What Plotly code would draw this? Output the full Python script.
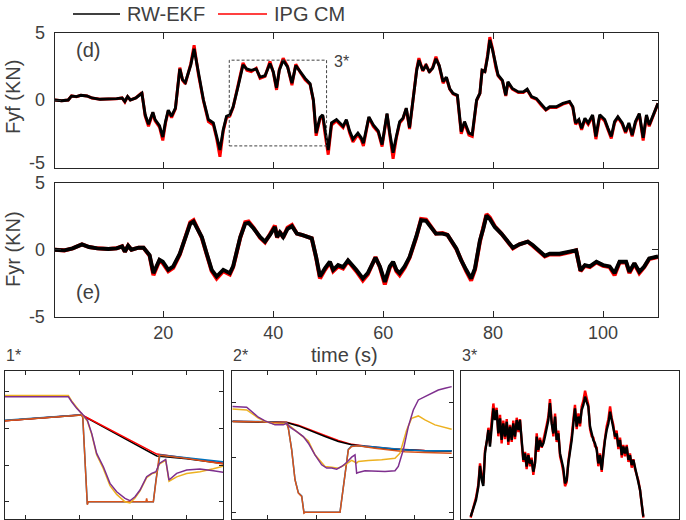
import plotly.graph_objects as go

W, H = 686, 520

# ---------------- panel (d): front lateral force ----------------
fyf_t = [0.2, 1.5, 2.7, 3.3, 4.2, 5.0, 6.1, 7.0, 8.5, 10.0,
         11.5, 12.5, 13.0, 13.5, 14.0, 15.0, 16.1, 16.7, 17.3, 18.1,
         18.5, 19.3, 19.9, 20.4, 20.9, 21.5, 22.2, 23.0, 23.5, 24.0,
         24.5, 25.0, 25.6, 26.0, 26.4, 27.3, 28.2, 29.1, 29.7, 30.3,
         30.9, 31.5, 32.1, 32.7, 33.6, 34.5, 35.2, 36.0, 36.9, 37.6,
         38.5, 39.4, 40.0, 40.6, 41.1, 41.8, 42.6, 43.4, 44.1, 44.9,
         45.8, 46.7, 47.3, 47.8, 48.5, 49.0, 49.4, 50.0, 50.6, 51.5,
         52.7, 53.3, 53.9, 54.5, 55.4, 56.0, 56.4, 56.9, 57.4, 58.2,
         59.1, 59.8, 60.3, 60.7, 61.2, 61.8, 62.4, 63.0, 63.6, 64.2,
         64.8, 65.6, 66.1, 66.5, 67.2, 67.8, 68.4, 69.0, 69.6, 70.2,
         70.9, 71.5, 72.1, 72.7, 73.5, 74.2, 74.8, 75.6, 76.2, 77.0,
         77.6, 78.0, 78.5, 79.0, 79.4, 79.9, 80.5, 80.9, 81.7, 82.3,
         82.7, 83.5, 84.6, 85.5, 86.2, 87.0, 87.9, 88.8, 89.6, 90.3,
         91.5, 92.7, 93.9, 94.5, 95.0, 95.6, 96.1, 96.7, 97.3, 98.1,
         98.7, 99.4, 100.3, 100.9, 101.5, 102.1, 102.7, 103.5, 104.1, 104.7,
         105.3, 105.9, 106.6, 107.3, 107.9, 108.4, 109.1, 110.0]
fyf_ekf = [0.0, -0.05, 0.0, 0.3, 0.25, 0.35, 0.3, 0.15, 0.05, 0.05,
           0.1, 0.15, -0.1, 0.25, 0.0, 0.15, 0.5, -1.1, -1.8, -0.9,
           -1.45, -1.9, -2.75, -1.6, -0.75, -1.2, -0.6, 2.3, 1.5, 1.3,
           1.9, 2.6, 3.8, 2.9, 1.9, 0.0, -1.45, -1.7, -2.7, -3.7,
           -2.2, -1.2, -1.1, -0.5, 1.0, 2.6, 2.3, 2.2, 2.3, 1.7,
           1.8, 2.7, 2.1, 0.9, 2.2, 2.95, 2.45, 1.25, 2.55, 2.1,
           1.6, 1.2, 0.0, -2.45, -1.3, -1.1, -2.3, -3.7, -1.7, -1.45,
           -1.95, -1.45, -2.3, -2.9, -2.45, -2.8, -3.2, -2.2, -1.25, -1.85,
           -2.3, -3.3, -1.95, -1.0, -2.45, -3.9, -2.7, -1.6, -1.35, -0.6,
           -2.05, 0.85, 2.2, 2.95, 2.2, 2.55, 2.1, 2.35, 3.05, 2.55,
           1.35, 1.7, 0.85, 0.5, 0.35, -2.35, -1.6, -2.45, -2.55, 0.0,
           0.5, 2.2, 2.1, 3.2, 4.45, 3.7, 2.45, 1.85, 1.45, 0.35,
           1.35, 0.85, 0.6, 0.6, 0.8, 0.25, 0.1, -0.35, -0.7, -0.5,
           -0.5, -0.25, -0.1, -0.5, -1.7, -1.45, -2.1, -1.35, -1.7, -1.1,
           -2.7, -1.1, -1.45, -2.1, -2.7, -1.6, -1.25, -1.7, -2.35, -1.7,
           -2.6, -1.6, -1.0, -2.8, -1.1, -1.85, -1.1, -0.25]
fyf_ipg = [0.0, -0.05, 0.0, 0.3, 0.25, 0.35, 0.3, 0.15, 0.05, 0.05,
           0.1, 0.15, -0.15, 0.25, 0.0, 0.15, 0.55, -1.2, -1.95, -0.95,
           -1.55, -2.0, -3.0, -1.7, -0.8, -1.3, -0.65, 2.4, 1.45, 1.2,
           1.9, 2.7, 4.05, 2.95, 1.85, -0.05, -1.6, -1.85, -2.85, -4.2,
           -2.3, -1.3, -1.2, -0.55, 1.0, 2.75, 2.2, 2.1, 2.35, 1.6,
           1.75, 2.85, 2.05, 0.75, 2.25, 3.1, 2.5, 1.1, 2.65, 2.05,
           1.5, 1.15, -0.05, -2.65, -1.4, -1.2, -2.45, -4.05, -1.85, -1.55,
           -2.05, -1.5, -2.45, -3.1, -2.55, -2.95, -3.4, -2.3, -1.3, -1.95,
           -2.4, -3.45, -2.05, -1.05, -2.6, -4.35, -2.8, -1.7, -1.4, -0.65,
           -2.15, 0.8, 2.3, 3.1, 2.15, 2.65, 2.05, 2.4, 3.2, 2.5,
           1.25, 1.65, 0.8, 0.45, 0.3, -2.5, -1.7, -2.6, -2.7, -0.05,
           0.5, 2.25, 2.05, 3.35, 4.65, 3.8, 2.4, 1.8, 1.4, 0.3,
           1.3, 0.8, 0.55, 0.55, 0.75, 0.2, 0.05, -0.4, -0.75, -0.55,
           -0.55, -0.3, -0.15, -0.55, -1.8, -1.55, -2.2, -1.45, -1.8, -1.2,
           -2.9, -1.2, -1.55, -2.2, -2.85, -1.7, -1.3, -1.8, -2.45, -1.8,
           -2.7, -1.7, -1.05, -3.0, -1.2, -1.95, -1.15, -0.25]

# ---------------- panel (e): rear lateral force ----------------
fyr_t = [0.2, 2.0, 3.5, 5.2, 6.5, 8.0, 10.0, 11.5, 12.5, 13.0,
         13.6, 14.2, 15.5, 16.4, 17.5, 18.2, 19.3, 19.9, 20.9, 21.8,
         23.0, 24.0, 24.9, 25.5, 26.1, 27.0, 27.9, 28.8, 29.7, 30.9,
         32.1, 32.7, 34.0, 34.9, 35.5, 36.4, 37.6, 38.5, 39.4, 40.3,
         40.7, 41.2, 41.8, 42.6, 43.4, 44.3, 45.2, 46.1, 47.0, 47.8,
         48.5, 49.4, 50.3, 50.9, 51.8, 52.7, 53.6, 55.1, 56.3, 57.2,
         58.6, 59.4, 60.3, 61.2, 61.8, 62.4, 63.0, 63.9, 64.8, 66.0,
         66.9, 67.8, 68.7, 69.6, 70.8, 71.7, 73.3, 74.2, 75.1, 76.0,
         76.7, 77.6, 78.2, 78.8, 79.4, 80.3, 81.5, 82.7, 83.6, 84.8,
         86.3, 87.2, 88.5, 89.4, 90.3, 92.1, 93.9, 95.1, 95.9, 96.7,
         97.6, 98.8, 100.0, 101.2, 102.1, 103.0, 104.2, 104.8, 105.7, 106.6,
         107.5, 108.4, 110.0]
fyr_ekf = [0.0, -0.05, 0.1, 0.4, 0.2, 0.1, 0.05, 0.1, 0.25, -0.15,
           0.3, 0.0, 0.15, 0.15, -0.4, -1.75, -0.75, -0.9, -1.5, -1.25,
           -0.3, 0.95, 1.95, 2.1, 1.6, 0.95, -0.3, -1.5, -2.0, -1.5,
           -1.75, -1.25, 0.95, 1.95, 2.0, 1.6, 0.95, 0.6, 1.1, 1.7,
           0.95, 1.3, 0.95, 1.55, 1.75, 1.2, 1.1, 0.95, 0.85, -0.55,
           -2.0, -1.4, -0.9, -1.5, -1.15, -1.3, -0.8, -1.5, -2.15, -1.75,
           -0.6, -1.25, -2.4, -1.25, -0.9, -1.5, -1.75, -1.25, -0.55, 0.95,
           2.2, 2.15, 1.7, 1.2, 1.2, 1.1, 0.1, -0.8, -1.5, -2.15,
           -1.4, 0.7, 1.55, 2.55, 2.3, 1.7, 1.2, 0.6, 0.15, 0.4,
           0.6, 0.35, -0.15, -0.45, -0.3, -0.3, -0.15, -0.05, -1.55, -1.15,
           -1.25, -0.9, -1.15, -1.25, -1.75, -0.9, -0.9, -1.65, -1.0, -1.65,
           -1.25, -0.65, -0.5]
fyr_ipg = [0.0, -0.05, 0.1, 0.4, 0.2, 0.1, 0.05, 0.1, 0.25, -0.15,
           0.3, 0.0, 0.15, 0.15, -0.45, -1.9, -0.8, -1.0, -1.6, -1.35,
           -0.35, 0.9, 2.05, 2.2, 1.65, 0.9, -0.35, -1.6, -2.15, -1.6,
           -1.85, -1.3, 0.9, 2.05, 2.1, 1.65, 0.9, 0.55, 1.15, 1.8,
           0.9, 1.35, 0.9, 1.65, 1.85, 1.2, 1.1, 0.95, 0.85, -0.6,
           -2.15, -1.5, -0.95, -1.6, -1.25, -1.4, -0.85, -1.6, -2.3, -1.85,
           -0.55, -1.3, -2.6, -1.35, -0.95, -1.6, -1.9, -1.35, -0.6, 0.9,
           2.3, 2.25, 1.75, 1.2, 1.25, 1.1, 0.05, -0.85, -1.6, -2.3,
           -1.5, 0.6, 1.5, 2.65, 2.4, 1.75, 1.2, 0.55, 0.1, 0.4,
           0.6, 0.3, -0.2, -0.5, -0.35, -0.35, -0.2, -0.05, -1.6, -1.2,
           -1.3, -0.95, -1.2, -1.3, -1.9, -0.95, -0.95, -1.75, -1.05, -1.75,
           -1.3, -0.7, -0.55]

# ---------------- inset 1* (normalised units) ----------------
in1_purple_x = [0.623, 1.154, 1.802, 1.864, 1.957, 2.049, 2.154, 2.235, 2.327, 2.451,
                2.574, 2.698, 2.852, 2.944, 3.037, 3.130, 3.253, 3.346, 3.426, 3.488,
                3.593, 3.605, 3.667, 3.809, 3.994, 4.241, 4.488, 4.673]
in1_purple_y = [3.865, 3.865, 3.865, 3.728, 3.546, 3.41, 3.228, 2.865, 2.319, 1.955,
                1.501, 1.274, 1.092, 1.028, 1.137, 1.319, 1.683, 1.774, 1.819, 2.046,
                2.137, 2.155, 1.592, 1.774, 1.865, 1.892, 1.846, 1.801]
in1_yellow_y = [3.9, 3.9, 3.9, 3.75, 3.56, 3.40, 3.20, 2.84, 2.28, 1.90,
                1.44, 1.20, 1.00, 0.97, 1.10, 1.30, 1.66, 1.76, 1.80, 2.03,
                2.12, 2.14, 1.56, 1.68, 1.77, 1.82, 1.90, 1.97]
in1_step_x = [0.623, 1.5, 2.049, 2.07, 2.154, 2.17, 3.0, 3.24, 3.253, 3.266,
              3.377, 3.426, 3.488, 3.5, 3.994, 4.673]
in1_orange_y = [3.21, 3.30, 3.365, 3.3, 0.92, 1.0, 1.0, 1.0, 1.09, 1.0,
                1.0, 1.6, 2.274, 2.27, 2.183, 2.03]
in1_blue_y = [3.22, 3.31, 3.37, 3.3, 0.93, 1.0, 1.0, 1.0, 1.0, 1.0,
              1.0, 1.6, 2.28, 2.28, 2.2, 2.09]
in1_ref_x = [0.623, 2.049, 3.44, 3.994, 4.673]
in1_black_y = [3.21, 3.365, 2.25, 2.17, 2.04]
in1_red_y = [3.21, 3.37, 2.30, 2.19, 2.05]

# ---------------- inset 2* (normalised units) ----------------
in2_purple_x = [0.280, 0.572, 0.809, 0.945, 1.149, 1.318, 1.386, 1.454, 1.590, 1.726,
                1.828, 1.963, 2.099, 2.201, 2.303, 2.405, 2.507, 2.608, 2.710, 2.778,
                2.812, 2.846, 2.982, 3.185, 3.389, 3.593, 3.660, 3.762, 3.864, 3.966,
                4.068, 4.203, 4.339, 4.475, 4.611, 4.747]
in2_purple_y = [2.928, 2.916, 2.734, 2.667, 2.595, 2.595, 2.625, 2.552, 2.473, 2.382,
                2.261, 2.049, 1.867, 1.807, 1.807, 1.788, 1.837, 1.91, 2.007, 2.049,
                1.716, 1.728, 1.758, 1.746, 1.746, 1.758, 1.837, 2.140, 2.564, 2.867,
                3.049, 3.110, 3.170, 3.231, 3.261, 3.292]
in2_yellow_x = [0.280, 0.572, 0.809, 0.945, 1.149, 1.318, 1.386, 1.488, 1.692, 1.828,
                1.963, 2.167, 2.303, 2.439, 2.574, 2.710, 2.812, 2.846, 3.050, 3.321,
                3.593, 3.694, 3.830, 3.932, 4.068, 4.203, 4.407, 4.611, 4.747]
in2_yellow_y = [2.885, 2.867, 2.72, 2.66, 2.607, 2.61, 2.625, 2.552, 2.413, 2.30,
                2.049, 1.837, 1.825, 1.807, 1.867, 1.95, 1.90, 1.928, 1.946, 1.958,
                1.988, 2.079, 2.50, 2.716, 2.758, 2.685, 2.595, 2.546, 2.516]
in2_step_x = [0.280, 0.809, 1.386, 1.420, 1.488, 1.556, 1.624, 1.692, 1.739, 1.760,
              2.473, 2.507, 2.574, 2.642, 2.710, 2.846, 3.185, 3.525, 3.796, 4.203,
              4.747]
in2_orange_y = [2.655, 2.65, 2.625, 2.534, 2.14, 1.595, 1.352, 1.291, 0.988, 1.001,
                1.001, 1.231, 1.716, 2.14, 2.201, 2.213, 2.170, 2.14, 2.104, 2.092,
                2.079]
in2_blue_y = [2.66, 2.655, 2.63, 2.54, 2.15, 1.60, 1.36, 1.30, 0.995, 1.005,
              1.005, 1.24, 1.72, 2.15, 2.21, 2.22, 2.19, 2.16, 2.14, 2.125,
              2.122]
in2_ref_x = [0.280, 1.386, 1.624, 1.895, 2.167, 2.439, 2.710, 2.982, 3.253, 3.525,
             3.796, 4.203, 4.747]
in2_black_y = [2.655, 2.637, 2.576, 2.473, 2.382, 2.292, 2.231, 2.201, 2.170, 2.152,
               2.14, 2.125, 2.12]
in2_red_y = [2.66, 2.645, 2.59, 2.49, 2.40, 2.31, 2.24, 2.21, 2.18, 2.16,
             2.145, 2.13, 2.125]

# ---------------- inset 3*: zoom of (d) between 32 s and 50 s ----------------
in3_t = [32.82, 33.04, 33.26, 33.45, 33.59, 33.73, 33.86, 34.00, 34.19, 34.28,
         34.41, 34.55, 34.69, 34.82, 34.96, 35.10, 35.24, 35.37, 35.51, 35.65,
         35.79, 35.92, 36.06, 36.20, 36.33, 36.47, 36.61, 36.75, 36.88, 37.02,
         37.16, 37.30, 37.43, 37.57, 37.71, 37.84, 37.98, 38.12, 38.26, 38.39,
         38.53, 38.67, 38.81, 38.94, 39.08, 39.22, 39.35, 39.49, 39.63, 39.77,
         39.90, 40.04, 40.18, 40.32, 40.45, 40.59, 40.73, 40.86, 41.00, 41.14,
         41.28, 41.41, 41.55, 41.69, 41.83, 41.96, 42.10, 42.24, 42.37, 42.51,
         42.65, 42.79, 42.92, 43.06, 43.20, 43.33, 43.47, 43.61, 43.75, 43.88,
         44.02, 44.16, 44.30, 44.43, 44.57, 44.71, 44.84, 44.98, 45.12, 45.26,
         45.39, 45.53, 45.67, 45.81, 45.94, 46.08, 46.22, 46.35, 46.49, 46.63,
         46.77, 46.90, 47.04]
in3_ekf = [-1.12, -0.83, -0.53, -0.07, 0.66, 0.17, -0.04, 1.10, 1.57, 1.92,
           1.34, 2.15, 2.68, 2.27, 2.62, 1.80, 2.33, 1.57, 2.15, 1.69,
           2.21, 1.51, 2.04, 1.57, 2.15, 1.69, 2.27, 1.92, 2.27, 1.57,
           0.87, 1.10, 0.64, 1.04, 0.75, 0.87, 0.46, 0.75, 1.69, 1.22,
           1.57, 1.34, 1.45, 1.69, 1.98, 2.27, 2.86, 2.15, 1.80, 2.39,
           1.57, 1.80, 1.10, 0.81, 0.58, 0.05, 0.17, 0.75, 1.10, 1.57,
           2.15, 2.68, 2.04, 2.39, 2.15, 2.62, 2.80, 3.09, 2.91, 2.74,
           2.04, 1.80, 1.57, 1.45, 1.22, 0.75, 1.04, 0.52, 1.10, 1.57,
           1.92, 2.15, 2.56, 2.27, 2.04, 1.69, 1.80, 1.34, 1.57, 1.04,
           1.34, 1.10, 1.34, 0.87, 1.04, 0.69, 0.87, 0.64, 0.40, 0.17,
           -0.18, -0.65, -1.12]
in3_ipg = [-1.15, -0.8, -0.45, 0.0, 0.75, 0.3, 0.05, 1.2, 1.6, 2.0,
           1.45, 2.25, 2.85, 2.35, 2.7, 1.7, 2.45, 1.45, 2.25, 1.6,
           2.3, 1.4, 2.1, 1.5, 2.25, 1.6, 2.35, 1.85, 2.3, 1.5,
           0.8, 1.15, 0.55, 1.1, 0.65, 0.95, 0.35, 0.8, 1.8, 1.15,
           1.65, 1.3, 1.55, 1.75, 2.1, 2.4, 3.0, 2.25, 1.7, 2.5,
           1.5, 1.9, 1.0, 0.75, 0.45, -0.05, 0.1, 0.8, 1.2, 1.7,
           2.3, 2.8, 1.95, 2.5, 2.05, 2.75, 2.95, 3.3, 3.05, 2.8,
           1.95, 1.7, 1.65, 1.35, 1.3, 0.65, 1.1, 0.45, 1.2, 1.7,
           2.05, 2.3, 2.75, 2.35, 2.1, 1.6, 1.9, 1.25, 1.65, 0.95,
           1.4, 1.0, 1.4, 0.8, 1.1, 0.6, 0.9, 0.55, 0.35, 0.15,
           -0.2, -0.7, -1.15]

main_xticks = [20, 40, 60, 80, 100]
main_yticks = [-5, 0, 5]
d_yticktext = ["", "0", "5"]          # the "-5" of (d) sits slightly higher, drawn below
e_yticktext = ["-5", "0", "5"]
zoom_box = dict(x0=32.0, x1=49.7, y0=-3.4, y1=2.95)

BLUE, ORANGE, YELLOW, PURPLE = "#0072BD", "#D95319", "#EDB120", "#7E2F8E"
FRAME = "#262626"
TXT = "#404040"
FONT = "Liberation Sans, Arial, Helvetica, sans-serif"


def px_x(p):
    return p / W


def px_y(p):
    return 1 - p / H


fig = go.Figure()


def line(x, y, color, width, ax):
    fig.add_trace(go.Scatter(x=x, y=y, mode="lines", showlegend=False,
                             line=dict(color=color, width=width),
                             xaxis="x" + ax, yaxis="y" + ax, hoverinfo="skip"))


# (d)
line(fyf_t, fyf_ipg, "#FF0000", 3.0, "")
line(fyf_t, fyf_ekf, "#000000", 2.9, "")
# (e)
line(fyr_t, fyr_ipg, "#FF0000", 4.0, "2")
line(fyr_t, fyr_ekf, "#000000", 3.9, "2")
# 1*
line(in1_ref_x, in1_black_y, "#000000", 1.5, "3")
line(in1_ref_x, in1_red_y, "#FF0000", 1.5, "3")
line(in1_step_x, in1_blue_y, BLUE, 1.5, "3")
line(in1_step_x, in1_orange_y, ORANGE, 1.5, "3")
line(in1_purple_x, in1_yellow_y, YELLOW, 1.5, "3")
line(in1_purple_x, in1_purple_y, PURPLE, 1.5, "3")
# 2*
line(in2_ref_x, in2_red_y, "#FF0000", 1.5, "4")
line(in2_ref_x, in2_black_y, "#000000", 1.5, "4")
line(in2_step_x, in2_blue_y, BLUE, 1.5, "4")
line(in2_step_x, in2_orange_y, ORANGE, 1.5, "4")
line(in2_yellow_x, in2_yellow_y, YELLOW, 1.5, "4")
line(in2_purple_x, in2_purple_y, PURPLE, 1.5, "4")
# 3*
line(in3_t, in3_ipg, "#FF0000", 2.4, "5")
line(in3_t, in3_ekf, "#000000", 2.4, "5")

axcommon = dict(showline=True, linecolor=FRAME, linewidth=1, mirror="ticks",
                ticks="inside", tickcolor=FRAME, showgrid=False, zeroline=False,
                automargin=False, tickfont=dict(family=FONT, size=18, color=TXT))

plain = dict(showline=True, linecolor=FRAME, linewidth=1, mirror=True, ticks="",
             showticklabels=False, showgrid=False, zeroline=False, automargin=False)

d_x = [px_x(54.5), px_x(658)]
fig.update_layout(
    width=W, height=H, autosize=False,
    margin=dict(l=0, r=0, t=0, b=0, pad=0, autoexpand=False),
    paper_bgcolor="white", plot_bgcolor="white", showlegend=False,
    xaxis=dict(domain=d_x, range=[0.2, 110], tickvals=main_xticks, ticklen=6,
               showticklabels=False, anchor="y", **axcommon),
    yaxis=dict(domain=[px_y(167.5), px_y(32.5)], range=[-5, 5], tickvals=main_yticks,
               ticktext=d_yticktext, ticklen=6, anchor="x", ticklabelstandoff=5,
               **axcommon),
    xaxis2=dict(domain=d_x, range=[0.2, 110], tickvals=main_xticks, ticklen=6,
                anchor="y2", ticklabelstandoff=0, **axcommon),
    yaxis2=dict(domain=[px_y(316.7), px_y(182.7)], range=[-5, 5], tickvals=main_yticks,
                ticktext=e_yticktext, ticklen=6, anchor="x2", ticklabelstandoff=5,
                **axcommon),
    xaxis3=dict(domain=[px_x(4.7), px_x(223)], range=[0.624, 4.667], tickvals=[1, 2, 3, 4],
                ticklen=4, showticklabels=False, anchor="y3", **axcommon),
    yaxis3=dict(domain=[px_y(519), px_y(370.7)], range=[0.53, 4.573], tickvals=[1, 2, 3, 4],
                ticklen=4, showticklabels=False, anchor="x3", **axcommon),
    xaxis4=dict(domain=[px_x(232.3), px_x(452.7)], range=[0.279, 4.768], tickvals=[1, 2, 3, 4],
                ticklen=4, showticklabels=False, anchor="y4", **axcommon),
    yaxis4=dict(domain=[px_y(519), px_y(370.7)], range=[0.88, 3.582], tickvals=[1, 2, 3],
                ticklen=4, showticklabels=False, anchor="x4", **axcommon),
    xaxis5=dict(domain=[px_x(460.7), px_x(679.3)], range=[32, 50], anchor="y5", **plain),
    yaxis5=dict(domain=[px_y(519), px_y(370.7)], range=[-1.2, 4.0], anchor="x5", **plain),
)

# dashed zoom rectangle in (d)
fig.add_shape(type="rect", xref="x", yref="y", **zoom_box,
              line=dict(color="#404040", width=1, dash="3px,2px"))

# legend drawn by hand
fig.add_shape(type="line", xref="paper", yref="paper", x0=px_x(73), x1=px_x(120),
              y0=px_y(14), y1=px_y(14), line=dict(color="#000000", width=1.5))
fig.add_shape(type="line", xref="paper", yref="paper", x0=px_x(218), x1=px_x(267),
              y0=px_y(14), y1=px_y(14), line=dict(color="#FF0000", width=1.5))


def text(s, x, y, size, angle=0, xanchor="center"):
    fig.add_annotation(text=s, x=px_x(x), y=px_y(y), xref="paper", yref="paper",
                       showarrow=False, textangle=angle, xanchor=xanchor, yanchor="middle",
                       font=dict(family=FONT, size=size, color=TXT))


text("RW-EKF", 125, 14, 20, xanchor="left")
text("IPG CM", 272, 14, 20, xanchor="left")
text("Fyf (KN)", 13, 97, 20, angle=-90)
text("Fyr (KN)", 13, 249, 20, angle=-90)
text("-5", 47, 162.5, 18, xanchor="right")
text("(d)", 88, 50, 20)
text("(e)", 88, 292, 20)
text("3*", 341, 61, 16)
text("time (s)", 344, 355, 20)
text("1*", 14, 355, 16)
text("2*", 240, 355, 16)
text("3*", 469, 355, 16)

fig.write_html("out.html", config={"displayModeBar": False, "staticPlot": True},
               post_script="document.body.style.margin='0px';"
                           "document.body.style.padding='0px';"
                           "document.documentElement.style.overflow='hidden';")
